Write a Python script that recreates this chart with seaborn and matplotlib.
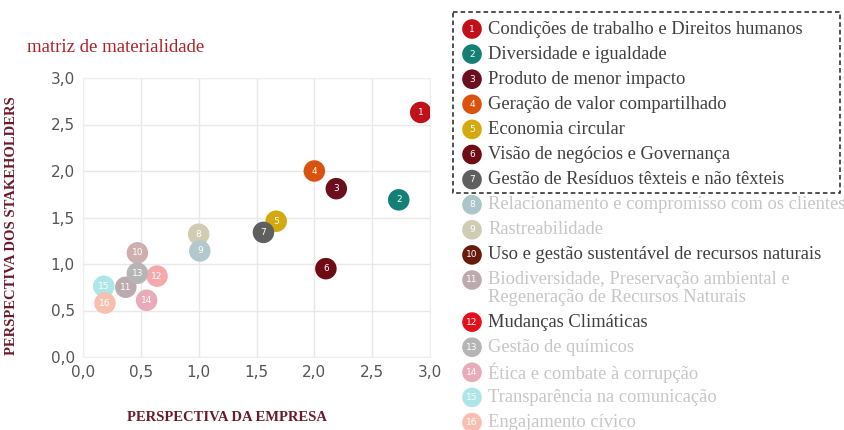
import numpy as np
import pandas as pd
import matplotlib.pyplot as plt
import seaborn as sns
from matplotlib.patches import Rectangle

# data
ids = list(range(1, 17))
empresa = [2.92, 2.73, 2.19, 2.00, 1.67, 2.10, 1.56, 1.00, 1.01, 0.47, 0.37, 0.64, 0.47, 0.55, 0.18, 0.19]
stakeholders = [2.63, 1.69, 1.81, 2.00, 1.46, 0.95, 1.34, 1.32, 1.14, 1.12, 0.75, 0.87, 0.90, 0.61, 0.76, 0.58]
point_colors = ['#c0101a', '#137f75', '#6b0f1e', '#d9530f', '#d4a90f', '#6e0b14', '#5f5f5f', '#d0ccb4',
                '#b3c8cc', '#cdb0ae', '#bcaaae', '#f4a9ac', '#b5b5b5', '#e8abb9', '#ace6e6', '#f6c0b0']
legend_colors = ['#c0101a', '#137f75', '#6b0f1e', '#d9530f', '#d4a90f', '#6e0b14', '#5f5f5f', '#abc5c9',
                 '#d0ccb4', '#6a1a0a', '#bcaaae', '#e3101b', '#b5b5b5', '#e8abb9', '#ace6e6', '#f6c0b0']
temas = ['Condições de trabalho e Direitos humanos', 'Diversidade e igualdade', 'Produto de menor impacto',
         'Geração de valor compartilhado', 'Economia circular', 'Visão de negócios e Governança',
         'Gestão de Resíduos têxteis e não têxteis', 'Relacionamento e compromisso com os clientes',
         'Rastreabilidade', 'Uso e gestão sustentável de recursos naturais',
         'Biodiversidade, Preservação ambiental e\nRegeneração de Recursos Naturais', 'Mudanças Climáticas',
         'Gestão de químicos', 'Ética e combate à corrupção', 'Transparência na comunicação', 'Engajamento cívico']
destaque = [1, 2, 3, 4, 5, 6, 7, 10, 12]

df = pd.DataFrame({'id': ids, 'x': empresa, 'y': stakeholders})

sns.set_style('white')
plt.rcParams['font.family'] = ['DejaVu Sans']
serif = 'Liberation Serif'

fig = plt.figure(figsize=(8.44, 4.30), dpi=100)
W, H = 844, 430
ax = fig.add_axes([83 / W, 1 - 357 / H, (430 - 83) / W, (357 - 78) / H])

sns.scatterplot(data=df, x='x', y='y', hue='id', palette=point_colors, s=240, linewidth=0,
                legend=False, ax=ax, zorder=3)
for i, xv, yv in zip(ids, empresa, stakeholders):
    ax.text(xv, yv, str(i), color='white', fontsize=6.5, ha='center', va='center', zorder=4)

ax.set_xlim(0, 3)
ax.set_ylim(0, 3)
ticks = np.arange(0, 3.01, 0.5)
ax.set_xticks(ticks)
ax.set_yticks(ticks)
ax.set_xticklabels([f'{t:.1f}'.replace('.', ',') for t in ticks])
ax.set_yticklabels([f'{t:.1f}'.replace('.', ',') for t in ticks])
ax.tick_params(labelsize=11, colors='#555555', length=0, pad=6)
ax.grid(True, color='#e8e8e8', lw=1)
for s in ax.spines.values():
    s.set_color('#eeeeee')
ax.set_xlabel('PERSPECTIVA DA EMPRESA', family=serif, fontweight='bold', color='#6b1a2a', fontsize=10.5)
ax.set_ylabel('PERSPECTIVA DOS STAKEHOLDERS', family=serif, fontweight='bold', color='#6b1a2a', fontsize=10.5)
ax.xaxis.set_label_coords((227 - 83) / 347, (357 - 411) / 279)
ax.yaxis.set_label_coords((18 - 83) / 347, (357 - 226) / 279)

fig.text(27 / W, 1 - 47 / H, 'matriz de materialidade', family=serif, color='#b0202a',
         fontsize=13.5, va='center')

# legend panel in pixel coordinates
lax = fig.add_axes([0, 0, 1, 1])
lax.set_xlim(0, W)
lax.set_ylim(H, 0)
lax.axis('off')
lax.add_patch(Rectangle((453, 12), 387, 181, fill=False, ls=(0, (3, 2)), lw=1.1, ec='#222222'))

ypos = []
y = 29
for t in temas:
    ypos.append(y)
    y += 25.1 + (17 if '\n' in t else 0)

lax.scatter([472] * 16, ypos, s=200, c=legend_colors, linewidths=0, zorder=3)
for i, t, yy in zip(ids, temas, ypos):
    lax.text(472, yy, str(i), color='white', fontsize=6.5, ha='center', va='center', zorder=4)
    col = '#3f3f3f' if i in destaque else '#c6c6c6'
    if '\n' in t:
        for k, part in enumerate(t.split('\n')):
            lax.text(488, yy + 17.5 * k, part, family=serif, fontsize=13.3, color=col, va='center')
    else:
        lax.text(488, yy, t, family=serif, fontsize=13.3, color=col, va='center')

fig.savefig('out.png', dpi=100)
